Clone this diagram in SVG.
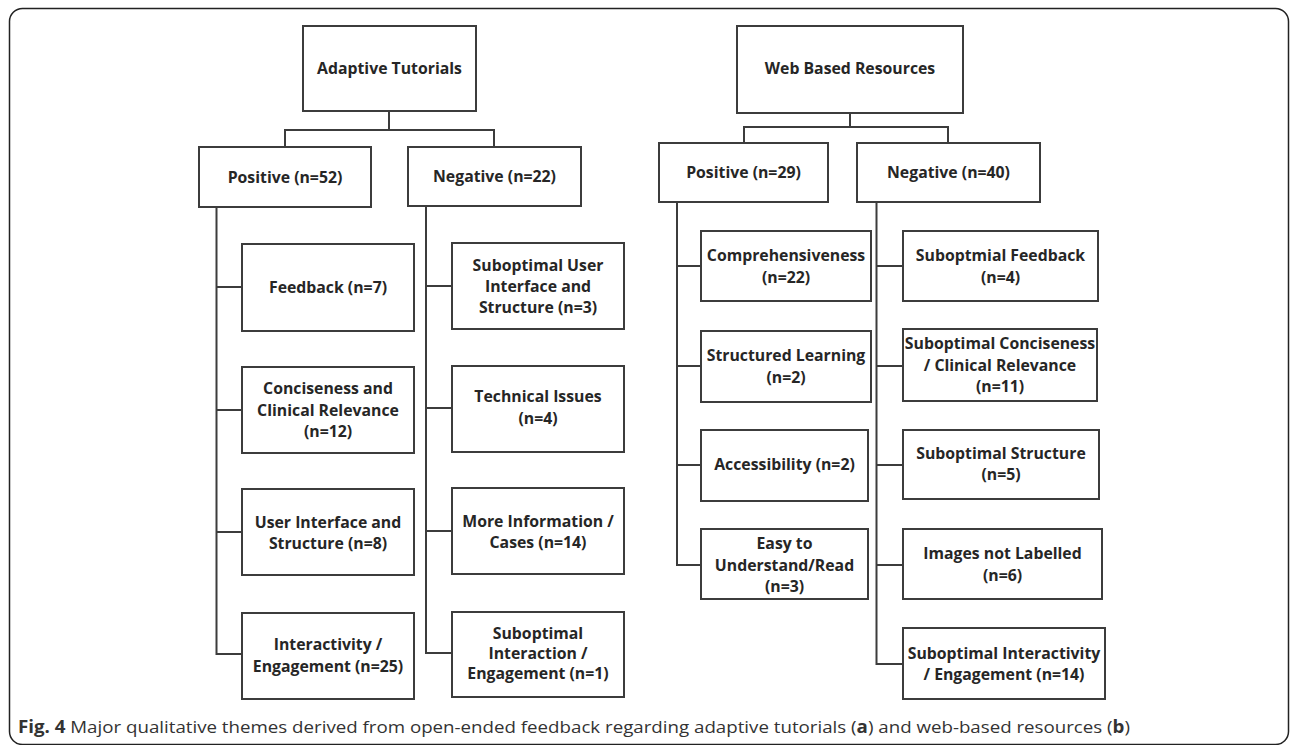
<svg xmlns="http://www.w3.org/2000/svg" width="1290" height="745" viewBox="0 0 1290 745">
<style>
.box{fill:#fff;stroke:#3c3c3c;stroke-width:2}
.lbl{font-family:"Open Sans","Liberation Sans",sans-serif;font-weight:700;font-size:15.8px;fill:#262626;text-anchor:middle}
.con{fill:none;stroke:#3c3c3c;stroke-width:2}
.cap{font-family:"Open Sans","Liberation Sans",sans-serif;font-size:17px;fill:#333}
</style>
<rect x="9.5" y="8.5" width="1279" height="736" rx="13" fill="#fff" stroke="#222" stroke-width="1.5"/>

<g id="connectors">
<path class="con" d="M389,111V130M285,147V130H494V147"/>
<path class="con" d="M216.5,207V654H242M216.5,287H242M216.5,410H242M216.5,532H242"/>
<path class="con" d="M426,206V653H452M426,286H452M426,408H452M426,531H452"/>
<path class="con" d="M850,113V127M744,143V127H948V143"/>
<path class="con" d="M677,202V565H701M677,266H701M677,366H701M677,465H701"/>
<path class="con" d="M876.5,202V664H903M876.5,266H903M876.5,366H903M876.5,465H903M876.5,565H903"/>
</g>

<g id="adaptive-tutorials"><rect class="box" x="303" y="26" width="173" height="85"/><text class="lbl" x="389.5" y="74">Adaptive Tutorials</text></g>
<g id="at-positive"><rect class="box" x="199" y="147" width="172" height="60"/><text class="lbl" x="285" y="183">Positive (n=52)</text></g>
<g id="at-negative"><rect class="box" x="408" y="147" width="173" height="59"/><text class="lbl" x="494.5" y="182">Negative (n=22)</text></g>

<g id="at-feedback"><rect class="box" x="242" y="244" width="172" height="87"/><text class="lbl" x="328" y="293">Feedback (n=7)</text></g>
<g id="at-conciseness"><rect class="box" x="242" y="367" width="172" height="86"/><text class="lbl" x="328"><tspan x="328" y="394">Conciseness and</tspan><tspan x="328" y="416">Clinical Relevance</tspan><tspan x="328" y="437">(n=12)</tspan></text></g>
<g id="at-ui"><rect class="box" x="242" y="489" width="172" height="86"/><text class="lbl" x="328"><tspan x="328" y="528">User Interface and</tspan><tspan x="328" y="549">Structure (n=8)</tspan></text></g>
<g id="at-interactivity"><rect class="box" x="242" y="613" width="172" height="86"/><text class="lbl" x="328"><tspan x="328" y="650">Interactivity /</tspan><tspan x="328" y="672">Engagement (n=25)</tspan></text></g>

<g id="at-sub-ui"><rect class="box" x="452" y="243" width="172" height="86"/><text class="lbl" x="538"><tspan x="538" y="271">Suboptimal User</tspan><tspan x="538" y="292">Interface and</tspan><tspan x="538" y="313">Structure (n=3)</tspan></text></g>
<g id="at-technical"><rect class="box" x="452" y="366" width="172" height="86"/><text class="lbl" x="538"><tspan x="538" y="402">Technical Issues</tspan><tspan x="538" y="424">(n=4)</tspan></text></g>
<g id="at-more-info"><rect class="box" x="452" y="488" width="172" height="86"/><text class="lbl" x="538"><tspan x="538" y="527">More Information /</tspan><tspan x="538" y="548">Cases (n=14)</tspan></text></g>
<g id="at-sub-interaction"><rect class="box" x="452" y="612" width="172" height="85"/><text class="lbl" x="538"><tspan x="538" y="639">Suboptimal</tspan><tspan x="538" y="659">Interaction /</tspan><tspan x="538" y="679">Engagement (n=1)</tspan></text></g>

<g id="web-resources"><rect class="box" x="737" y="26" width="226" height="87"/><text class="lbl" x="850" y="74">Web Based Resources</text></g>
<g id="wb-positive"><rect class="box" x="659" y="143" width="169" height="59"/><text class="lbl" x="743.5" y="178">Positive (n=29)</text></g>
<g id="wb-negative"><rect class="box" x="857" y="143" width="183" height="59"/><text class="lbl" x="948.5" y="178">Negative (n=40)</text></g>

<g id="wb-comprehensiveness"><rect class="box" x="701" y="231" width="170" height="70"/><text class="lbl" x="786"><tspan x="786" y="261">Comprehensiveness</tspan><tspan x="786" y="283">(n=22)</tspan></text></g>
<g id="wb-structured"><rect class="box" x="701" y="331" width="170" height="71"/><text class="lbl" x="786"><tspan x="786" y="361">Structured Learning</tspan><tspan x="786" y="383">(n=2)</tspan></text></g>
<g id="wb-accessibility"><rect class="box" x="701" y="430" width="167" height="71"/><text class="lbl" x="784.5" y="470">Accessibility (n=2)</text></g>
<g id="wb-easy"><rect class="box" x="701" y="529" width="167" height="70"/><text class="lbl" x="784.5"><tspan x="784.5" y="549">Easy to</tspan><tspan x="784.5" y="571">Understand/Read</tspan><tspan x="784.5" y="592">(n=3)</tspan></text></g>

<g id="wb-sub-feedback"><rect class="box" x="903" y="231" width="195" height="70"/><text class="lbl" x="1000.5"><tspan x="1000.5" y="261">Suboptmial Feedback</tspan><tspan x="1000.5" y="283">(n=4)</tspan></text></g>
<g id="wb-sub-conciseness"><rect class="box" x="903" y="329" width="194" height="72"/><text class="lbl" x="1000"><tspan x="1000" y="349">Suboptimal Conciseness</tspan><tspan x="1000" y="371">/ Clinical Relevance</tspan><tspan x="1000" y="392">(n=11)</tspan></text></g>
<g id="wb-sub-structure"><rect class="box" x="903" y="430" width="196" height="69"/><text class="lbl" x="1001"><tspan x="1001" y="459">Suboptimal Structure</tspan><tspan x="1001" y="480">(n=5)</tspan></text></g>
<g id="wb-images"><rect class="box" x="903" y="529" width="199" height="70"/><text class="lbl" x="1002.5"><tspan x="1002.5" y="559">Images not Labelled</tspan><tspan x="1002.5" y="581">(n=6)</tspan></text></g>
<g id="wb-sub-interactivity"><rect class="box" x="903" y="628" width="202" height="71"/><text class="lbl" x="1004"><tspan x="1004" y="659">Suboptimal Interactivity</tspan><tspan x="1004" y="680">/ Engagement (n=14)</tspan></text></g>

<text class="cap" x="18" y="733" textLength="1112" lengthAdjust="spacingAndGlyphs"><tspan font-weight="700">Fig. 4</tspan> Major qualitative themes derived from open-ended feedback regarding adaptive tutorials (<tspan font-weight="700">a</tspan>) and web-based resources (<tspan font-weight="700">b</tspan>)</text>
</svg>
